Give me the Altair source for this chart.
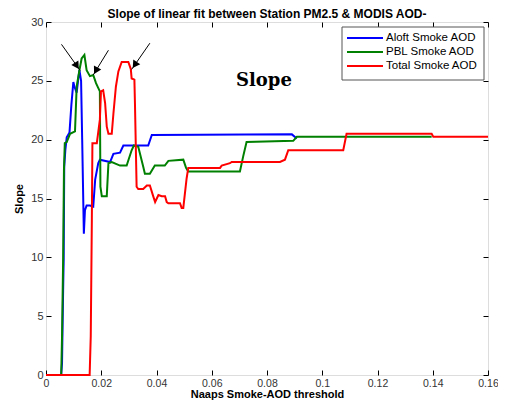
import altair as alt
import pandas as pd

# ---- data ----
aloft_x = [0.0, 0.0055, 0.0058, 0.0062, 0.0064, 0.0066, 0.0070, 0.0075, 0.0080, 0.0085, 0.0092,
           0.0099, 0.0103, 0.0111, 0.0116, 0.0121, 0.0127, 0.0131, 0.0134, 0.0137, 0.0141,
           0.0147, 0.0159, 0.0171, 0.0178, 0.0189, 0.0195, 0.0232, 0.0244, 0.0268, 0.0280,
           0.0370, 0.0383, 0.0890, 0.0908]
aloft_y = [0.0, 0.0, 1.0, 7.2, 9.8, 17.7, 19.1, 20.2, 20.4, 20.6, 23.0,
           24.9, 24.5, 24.0, 25.0, 25.9, 25.0, 20.0, 16.0, 12.0, 14.0,
           14.4, 14.4, 14.3, 16.6, 18.0, 18.3, 18.1, 18.8, 18.9, 19.5,
           19.5, 20.4, 20.45, 20.1]

pbl_x = [0.0, 0.0055, 0.0058, 0.0062, 0.0065, 0.0068, 0.0075, 0.0087, 0.0105, 0.0111, 0.0121,
         0.0129, 0.0139, 0.0147, 0.0159, 0.0171, 0.0181, 0.0189, 0.0195, 0.0197, 0.0202,
         0.0220, 0.0226, 0.0238, 0.0268, 0.0292, 0.0310, 0.0318, 0.0334, 0.0352, 0.0358,
         0.0376, 0.0394, 0.0430, 0.0443, 0.0497, 0.0507, 0.0515, 0.0702, 0.0714, 0.0726,
         0.0895, 0.0908, 0.1396]
pbl_y = [0.0, 0.0, 3.2, 9.8, 17.4, 19.7, 19.8, 20.5, 20.7, 24.5, 25.9,
         26.9, 27.2, 25.9, 25.4, 25.5, 24.8, 24.4, 24.1, 16.0, 15.2,
         15.2, 18.0, 18.1, 17.8, 17.8, 19.1, 19.5, 19.4, 17.7, 17.1,
         17.1, 17.8, 17.8, 18.2, 18.3, 17.6, 17.3, 17.3, 18.6, 19.8,
         19.9, 20.25, 20.25]

total_x = [0.0, 0.0158, 0.0162, 0.0166, 0.0168, 0.0184, 0.0195, 0.0199, 0.0207, 0.0214, 0.0220,
           0.0226, 0.0238, 0.0244, 0.0253, 0.0262, 0.0274, 0.0298, 0.0307, 0.0310, 0.0320,
           0.0322, 0.0328, 0.0334, 0.0352, 0.0365, 0.0376, 0.0388, 0.0395, 0.0407, 0.0419,
           0.0431, 0.0437, 0.0443, 0.0485, 0.0491, 0.0497, 0.0509, 0.0515, 0.0630, 0.0636,
           0.0666, 0.0672, 0.0847, 0.0865, 0.0877, 0.1076, 0.1088, 0.1396, 0.1402, 0.1600]
total_y = [0.0, 0.0, 3.3, 13.3, 19.7, 19.7, 21.7, 24.1, 24.2, 23.1, 21.1,
           20.5, 20.5, 22.2, 24.5, 25.8, 26.6, 26.6, 26.0, 25.2, 25.1,
           23.1, 16.0, 15.8, 15.8, 16.1, 16.1, 15.2, 14.7, 15.3, 15.2,
           15.2, 14.7, 14.6, 14.6, 14.2, 14.2, 16.7, 17.6, 17.6, 17.8,
           18.0, 18.1, 18.1, 18.3, 19.1, 19.1, 20.5, 20.5, 20.25, 20.25]

series_names = ["Aloft Smoke AOD", "PBL Smoke AOD", "Total Smoke AOD"]
series_colors = ["#0000ff", "#008000", "#ff0000"]

# arrows (annotation, data coordinates): start -> tip
arrow_x1 = [0.0056, 0.0226, 0.0376]
arrow_y1 = [28.1, 27.6, 28.2]
arrow_x2 = [0.0123, 0.0171, 0.0310]
arrow_y2 = [25.9, 25.5, 25.97]
arrow_angle = [327, 29, 34]

label_text = ["Slope"]
label_x = [0.0789]
label_y = [24.6]

title_text = "Slope of linear fit between Station PM2.5 & MODIS AOD-"

x_ticks = [0, 0.02, 0.04, 0.06, 0.08, 0.1, 0.12, 0.14, 0.16]
y_ticks = [0, 5, 10, 15, 20, 25, 30]

# ---- tables ----
rows = []
for name, xs, ys in zip(series_names, [aloft_x, pbl_x, total_x], [aloft_y, pbl_y, total_y]):
    for i, (a, b) in enumerate(zip(xs, ys)):
        rows.append({"series": name, "x": a, "y": b, "order": i})
df = pd.DataFrame(rows)

heads = []
for x1, y1, x2, y2, ang in zip(arrow_x1, arrow_y1, arrow_x2, arrow_y2, arrow_angle):
    heads.append({"x1": x1, "y1": y1, "x2": x2, "y2": y2,
                  "hx": x2 - 0.17 * (x2 - x1), "hy": y2 - 0.17 * (y2 - y1), "angle": ang})
arr = pd.DataFrame(heads)
lab = pd.DataFrame({"text": label_text, "x": label_x, "y": label_y})

# legend rows (pixel layout inside the plot area)
leg = pd.DataFrame({"series": series_names,
                    "ly": [16 + 14 * i for i in range(len(series_names))]})
box = pd.DataFrame({"t": [title_text]})

FONT = "Liberation Sans"
xscale = alt.Scale(domain=[0, 0.16], nice=False, zero=False)
yscale = alt.Scale(domain=[0, 30], nice=False)
cscale = alt.Scale(domain=series_names, range=series_colors)

x_axis = alt.Axis(values=x_ticks, format="~g", title="Naaps  Smoke-AOD threshold", grid=False,
                  domain=False, offset=-5, tickSize=5, tickColor="#000", labelPadding=3,
                  labelFont=FONT, labelFontSize=10.5, labelColor="#333", labelFlush=False,
                  titleFont=FONT, titleFontSize=11, titleFontWeight="bold", titleColor="#000",
                  titlePadding=0)
y_axis = alt.Axis(values=y_ticks, title="Slope", grid=False, domain=False,
                  offset=-5, tickSize=5, tickColor="#000", labelPadding=3,
                  labelFont=FONT, labelFontSize=11, labelColor="#333",
                  titleFont=FONT, titleFontSize=11, titleFontWeight="bold", titleColor="#000",
                  titlePadding=6)

lines = alt.Chart(df).mark_line(strokeWidth=2).encode(
    x=alt.X("x:Q", scale=xscale, axis=x_axis),
    y=alt.Y("y:Q", scale=yscale, axis=y_axis),
    color=alt.Color("series:N", scale=cscale, legend=None),
    order="order:Q",
)

# top / right inward ticks
top_ticks = alt.Chart(df).mark_point(opacity=0).encode(
    x=alt.X("x:Q", scale=xscale,
            axis=alt.Axis(orient="top", values=x_ticks, labels=False, title=None, grid=False,
                          domain=False, offset=-5, tickSize=5, tickColor="#000")),
    y=alt.Y("y:Q", scale=yscale,
            axis=alt.Axis(orient="right", values=y_ticks, labels=False, title=None, grid=False,
                          domain=False, offset=-5, tickSize=5, tickColor="#000")),
)

arrow_lines = alt.Chart(arr).mark_rule(color="black", strokeWidth=1).encode(
    x=alt.X("x1:Q", scale=xscale, axis=None), y=alt.Y("y1:Q", scale=yscale, axis=None),
    x2="x2:Q", y2="y2:Q")
arrow_heads = alt.Chart(arr).mark_point(shape="triangle-down", filled=True, color="black",
                                        size=70, opacity=1).encode(
    x=alt.X("hx:Q", scale=xscale, axis=None), y=alt.Y("hy:Q", scale=yscale, axis=None),
    angle=alt.Angle("angle:Q", scale=None))

text = alt.Chart(lab).mark_text(font="DejaVu Serif", fontSize=18, fontWeight="bold",
                                baseline="alphabetic", align="center", color="black").encode(
    x=alt.X("x:Q", scale=xscale, axis=None), y=alt.Y("y:Q", scale=yscale, axis=None),
    text="text:N")

# legend (drawn as marks)
leg_box = alt.Chart(box).mark_rect(fill="white", stroke="#555", strokeWidth=1).encode(
    x=alt.value(296), x2=alt.value(438), y=alt.value(5), y2=alt.value(58))
leg_lines = alt.Chart(leg).mark_rule(strokeWidth=2).encode(
    x=alt.value(301), x2=alt.value(337),
    y=alt.Y("ly:Q", scale=None, axis=None),
    color=alt.Color("series:N", scale=cscale, legend=None))
leg_text = alt.Chart(leg).mark_text(font=FONT, fontSize=11.5, align="left", baseline="middle",
                                    color="black").encode(
    x=alt.value(340), y=alt.Y("ly:Q", scale=None, axis=None), text="series:N")

title = alt.Chart(box).mark_text(font=FONT, fontSize=12, fontWeight="bold", align="center",
                                 baseline="alphabetic", color="black").encode(
    x=alt.value(221), y=alt.value(-4), text="t:N")

chart = alt.layer(lines, top_ticks, arrow_lines, arrow_heads, text,
                  leg_box, leg_lines, leg_text, title).resolve_axis(
    x="independent", y="independent"
).properties(
    width=442, height=353,
    autosize=alt.AutoSizeParams(type="none"),
    padding={"left": 38, "top": 14, "right": 10, "bottom": 26},
).configure_view(stroke="#000", strokeWidth=1).configure(background="white")

chart.save("out.html", embed_options={"renderer": "svg", "actions": False})
